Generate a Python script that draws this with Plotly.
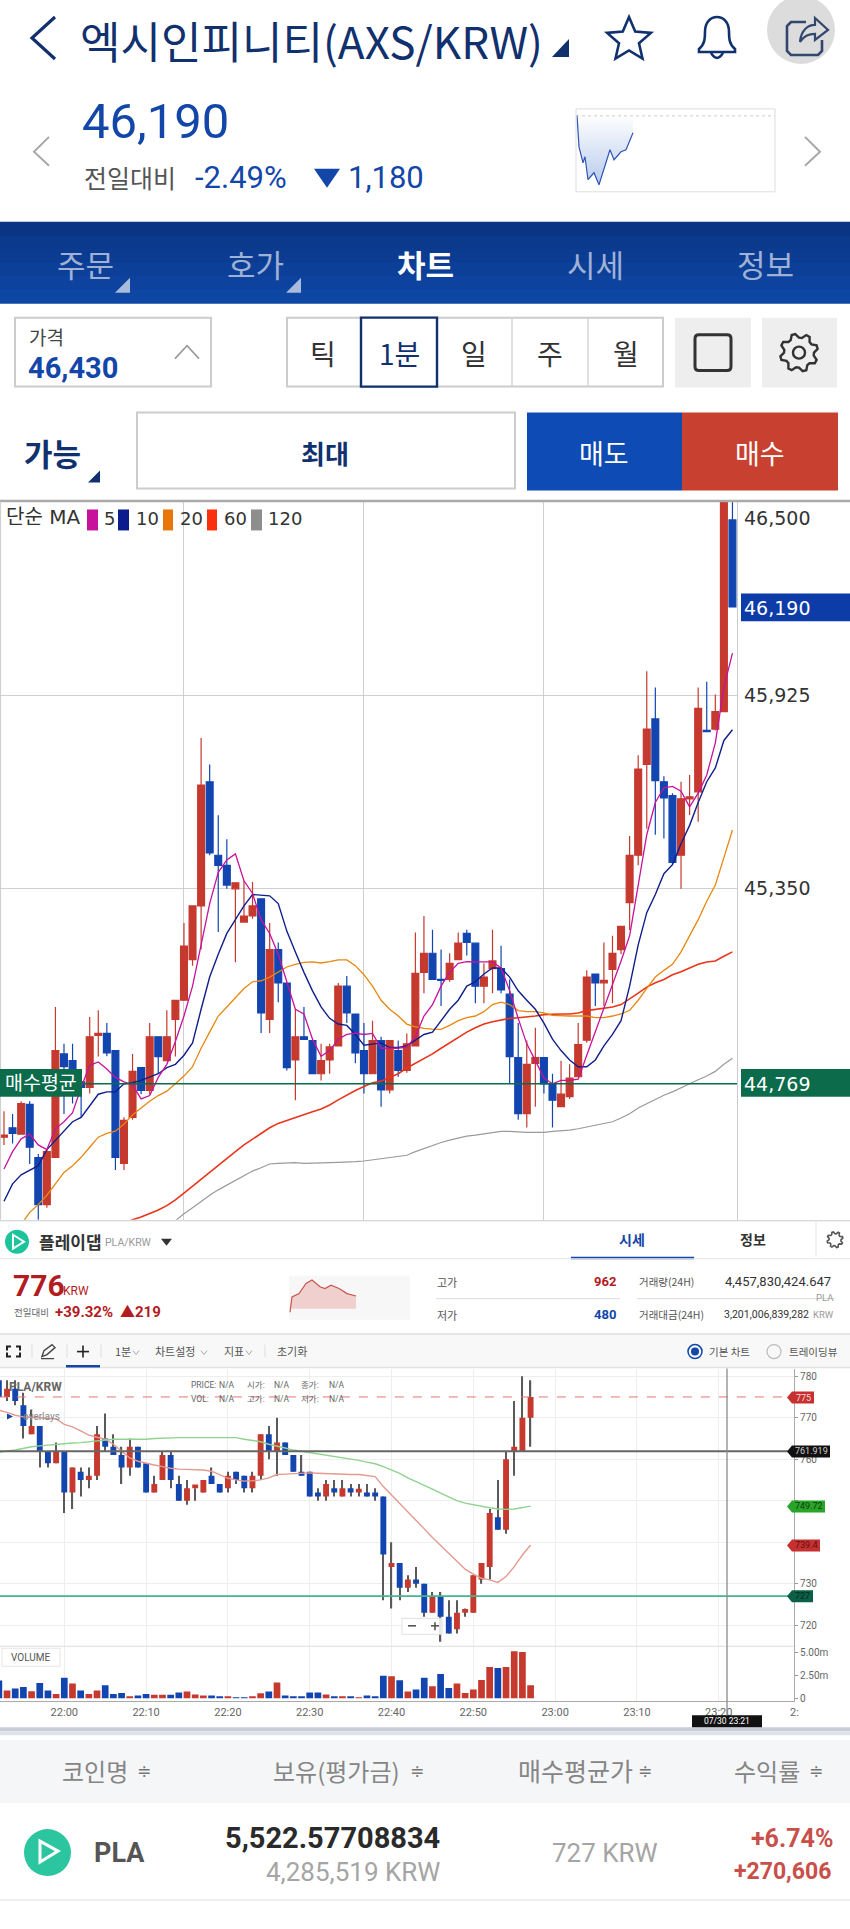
import re, math
import plotly.graph_objects as go

W, H = 850, 1929

# ---------- upper chart data (AXS/KRW, 1 minute) ----------
ax_open = [44610,44638,44619,44708,44549,44409,44550,44858,44838,44775,44758,44913,44919,44868,44532,44669,44817,44749,44909,44838,44961,45018,45139,45299,45669,45450,45420,45350,45251,45269,45320,44961,45169,45069,44840,44909,44898,44799,44840,44882,45060,44977,44868,44799,44898,44751,44868,44809,44882,45101,45158,45080,45080,45139,45217,45188,45060,45112,45112,45036,44847,44680,44830,44847,44769,44701,44731,44790,44899,45096,45070,45110,45169,45309,45450,45721,45856,45669,45628,45450,45618,45639,45822,45826,45878,46449]
ax_high = [44687,44679,44717,44717,44560,44573,44998,44888,44888,44813,44968,44988,44950,44868,44669,44858,44817,44950,44909,44988,45018,45248,45299,45799,45720,45569,45498,45368,45374,45370,45320,45248,45190,45069,44991,44998,44898,44888,44888,45069,45090,44977,44950,44957,44909,44898,44898,44919,45220,45269,45228,45169,45158,45220,45228,45188,45128,45228,45180,45080,44950,44898,44936,44847,44799,44838,44827,44950,45107,45096,45190,45210,45238,45507,45748,45998,45950,45685,45635,45669,45689,45950,45967,45929,46560,46560]
ax_low = [44587,44591,44619,44530,44364,44400,44550,44679,44710,44669,44740,44850,44851,44512,44512,44662,44738,44738,44799,44838,44850,45018,45121,45169,45450,45221,45350,45131,45251,45261,44920,44920,45012,44809,44720,44901,44799,44779,44799,44882,44950,44830,44740,44799,44701,44740,44790,44802,44882,45039,45080,45001,45073,45139,45151,45009,45009,45039,45039,44769,44662,44639,44701,44740,44639,44701,44724,44790,44891,45001,45001,45009,45155,45227,45420,45529,45511,45500,45422,45350,45570,45550,45818,45822,45878,46190]
ax_close = [44616,44621,44710,44580,44409,44567,44868,44820,44799,44758,44909,44919,44861,44550,44660,44806,44749,44909,44850,44909,45018,45179,45299,45659,45457,45420,45361,45368,45269,45299,44980,45169,45070,44817,44909,44901,44799,44838,44879,45060,44980,44861,44799,44898,44751,44898,44809,44888,45098,45158,45080,45077,45128,45188,45190,45060,45087,45135,45049,44850,44680,44827,44847,44769,44720,44738,44786,44886,45087,45070,45077,45158,45238,45450,45707,45826,45672,45621,45429,45618,45624,45888,45818,45878,46540,46190]
ma5 = [44515,44567,44605,44619,44587,44573,44635,44656,44683,44758,44824,44834,44813,44788,44775,44765,44724,44734,44788,44827,44895,44971,45060,45183,45306,45399,45436,45454,45374,45336,45258,45217,45155,45073,44991,44977,44902,44851,44868,44902,44916,44920,44916,44919,44875,44875,44875,44879,44909,44971,45005,45060,45101,45128,45133,45132,45132,45132,45114,45046,44964,44888,44838,44786,44769,44779,44779,44783,44854,44923,44991,45060,45135,45210,45361,45511,45607,45651,45655,45641,45594,45635,45689,45785,45950,46052]
ma10 = [44419,44471,44498,44512,44525,44573,44601,44628,44656,44669,44704,44738,44745,44745,44769,44772,44779,44788,44799,44817,44827,44854,44891,44991,45087,45155,45217,45258,45299,45333,45331,45329,45306,45224,45162,45101,45046,44998,44964,44947,44943,44916,44884,44888,44891,44877,44877,44882,44898,44916,44923,44957,44991,45018,45060,45073,45096,45114,45114,45087,45046,45018,44991,44950,44902,44868,44840,44820,44820,44840,44882,44916,44957,45060,45183,45279,45333,45395,45422,45484,45539,45607,45669,45710,45792,45824]
ma20 = [None,None,44350,44386,44409,44437,44471,44505,44525,44550,44580,44610,44621,44628,44649,44676,44697,44717,44734,44747,44769,44792,44820,44875,44923,44971,44998,45025,45053,45073,45076,45087,45101,45117,45125,45131,45132,45129,45133,45138,45138,45121,45094,45060,45018,44991,44971,44947,44939,44934,44932,44931,44943,44957,44966,44971,44984,45005,45012,45005,44987,44984,44984,44980,44973,44971,44971,44971,44971,44966,44966,44971,44977,44988,45018,45053,45087,45107,45125,45162,45210,45258,45313,45361,45443,45525]
ma60 = [None,None,None,None,None,None,None,None,None,None,None,None,None,None,44352,44364,44372,44382,44393,44406,44423,44443,44464,44484,44505,44525,44546,44567,44587,44605,44621,44638,44651,44660,44669,44679,44686,44694,44706,44721,44736,44749,44761,44772,44777,44788,44799,44816,44830,44843,44858,44875,44891,44906,44923,44936,44947,44954,44960,44964,44966,44968,44971,44975,44977,44977,44977,44980,44987,44991,44995,44998,45005,45021,45039,45057,45070,45080,45094,45103,45114,45125,45132,45135,45149,45162]
ma120 = [None,None,None,None,None,None,None,None,None,None,None,None,None,None,None,None,None,None,None,None,44361,44382,44400,44419,44437,44453,44467,44482,44495,44509,44519,44530,44532,44534,44534,44532,44532,44532,44534,44535,44535,44537,44539,44542,44545,44549,44552,44556,44567,44576,44587,44594,44601,44608,44613,44616,44619,44623,44627,44627,44625,44624,44624,44624,44627,44628,44631,44635,44640,44645,44649,44656,44667,44680,44697,44710,44724,44735,44745,44756,44769,44781,44792,44806,44827,44845]
ax_y_ticks = [45925, 45350]
ax_y_labels = ["45,925", "45,350"]
ax_vgrid = [21, 42, 63]
avg_buy_price = 44769

# ---------- lower chart data (PLA/KRW, minutes from 22:00) ----------
pl_min = list(range(-8, 58))
pl_open = [779,775,777,773,766,768,762,759,762,752,757,755,756,765,763,761,758,763,759,752,755,761,754,750,753,752,756,754,753,757,756,753,756,766,762,764,761,757,757,752,751,753,751,753,752,752,752,751,734,735,729,731,730,723,727,722,719,723,723,731,734,746,743,762,762,770]
pl_high = [781,779,779,776,772,768,762,764,762,758,758,758,768,771,766,763,765,763,759,756,762,762,756,755,753,755,758,754,757,757,756,757,766,768,770,764,761,761,757,753,755,755,755,754,754,754,753,751,740,735,732,734,730,728,728,726,726,724,732,735,748,755,762,774,780,779]
pl_low = [775,774,773,765,766,758,758,759,747,748,751,753,755,762,761,754,756,758,752,752,755,753,750,749,750,752,754,752,752,754,752,752,755,760,756,761,757,756,751,750,750,751,751,751,751,751,750,726,724,726,728,729,722,723,716,718,718,722,723,730,731,743,742,756,762,763]
pl_close = [775,777,774,768,768,762,759,762,752,758,755,756,766,763,761,758,763,758,752,754,761,755,750,753,753,755,754,752,756,755,753,756,766,762,764,761,757,756,751,751,754,752,753,752,752,751,751,737,735,729,731,730,723,727,722,718,723,723,732,735,747,743,760,763,770,775]
pl_volume = [1.93,0.84,1.06,1.24,0.77,1.68,0.84,0.47,2.23,1.61,0.84,0.47,0.84,1.42,0.47,0.58,0.22,0.29,0.47,0.37,0.37,0.37,0.62,0.73,0.40,0.29,0.29,0.22,0.22,0.07,0.07,0.22,0.55,0.73,1.72,0.29,0.22,0.22,0.62,0.62,0.40,0.22,0.22,0.22,0.07,0.29,0.22,2.45,2.41,1.97,0.73,0.95,2.23,1.31,2.66,1.13,1.61,0.58,0.95,2.01,3.43,3.32,3.43,5.15,5.07,1.42]
pl_ma_red = [771.8,771.3,770.6,770.2,770.1,770.0,769.8,769.7,768.4,767.8,766.8,765.8,765.3,764.8,763.6,762.0,760.3,759.5,759.0,758.6,758.2,757.8,757.6,757.5,757.4,757.4,757.1,756.3,755.4,755.0,754.7,754.8,755.0,755.5,756.3,756.4,756.5,756.7,756.7,756.6,756.5,756.4,756.4,756.3,756.3,756.1,755.8,753.4,751.4,749.4,747.4,745.2,743.2,741.1,739.2,737.1,735.2,733.5,732.3,731.3,730.9,730.3,731.7,734.1,736.9,739.3]
pl_ma_green = [761.6,762.0,762.2,762.6,763.0,763.2,763.4,763.6,763.7,763.9,764.0,764.2,764.4,764.7,764.8,764.8,764.8,764.8,764.8,765.0,765.1,765.2,765.2,765.2,765.2,765.2,765.2,765.2,765.2,765.2,764.8,764.5,764.2,763.6,763.2,762.7,762.2,761.9,761.6,761.3,761.0,760.7,760.3,760.0,759.7,759.3,758.9,758.2,757.4,756.6,755.5,754.6,753.8,752.8,751.8,750.9,750.0,749.4,749.0,748.6,748.3,748.0,747.9,748.0,748.3,748.7]
pl_price_ticks = [720,730,740,750,760,770,780]
pl_price_labels = ["720","730","","","760","770","780"]
pl_vol_ticks = [0,2.5,5]
pl_vol_labels = ["0","2.50m","5.00m"]
pl_time_ticks = [0,10,20,30,40,50,60,70,80]
pl_time_labels = ["22:00","22:10","22:20","22:30","22:40","22:50","23:00","23:10","23:20"]
pl_last = 775
pl_ref_black = 761.919
pl_avg_buy = 727
pl_cross = 81

# ---------- sparklines ----------
spark1_x = [1,3,7,9,12,18,23,28,34,38,45,50,57]
spark1_y = [47439,45231,44127,44541,42954,43437,42609,43644,45024,44334,44886,45024,46197]
spark1_prev = 47370
spark2_x = [1,3,10,17,23,31,36,42,50,58,67]
spark2_y = [480,708,759,911,962,861,835,886,835,759,724]
spark2_base = 531

RED, BLUE = "#c5392e", "#1245b0"
NAVY = "#10306e"
KR = "Noto Sans CJK KR"
NUM = "Roboto, Noto Sans CJK KR"
DJ = "DejaVu Sans, Noto Sans CJK KR"

sx = lambda x: x / W
sy = lambda y: 1 - y / H
shapes, notes = [], []

def rect(x0, y0, x1, y1, fill=None, line=None, lw=1, layer="above"):
    shapes.append(dict(type="rect", xref="paper", yref="paper", x0=sx(x0), x1=sx(x1), y0=sy(y0), y1=sy(y1),
                       fillcolor=fill or "rgba(0,0,0,0)", line=dict(color=line or "rgba(0,0,0,0)", width=lw if line else 0), layer=layer))

def circle(x0, y0, x1, y1, fill=None, line=None, lw=1):
    shapes.append(dict(type="circle", xref="paper", yref="paper", x0=sx(x0), x1=sx(x1), y0=sy(y0), y1=sy(y1),
                       fillcolor=fill or "rgba(0,0,0,0)", line=dict(color=line or "rgba(0,0,0,0)", width=lw if line else 0), layer="above"))

def hline(x0, y, x1, color, lw=1):
    shapes.append(dict(type="line", xref="paper", yref="paper", x0=sx(x0), x1=sx(x1), y0=sy(y), y1=sy(y),
                       line=dict(color=color, width=lw), layer="above"))

def vline(x, y0, y1, color, lw=1):
    shapes.append(dict(type="line", xref="paper", yref="paper", x0=sx(x), x1=sx(x), y0=sy(y0), y1=sy(y1),
                       line=dict(color=color, width=lw), layer="above"))

def path(d, fill=None, line=None, lw=1):
    toks = re.findall(r"[MLCQZ]|-?\d+\.?\d*", d)
    out, isx = [], True
    for t in toks:
        if t in "MLCQZ":
            out.append(t); isx = True
        else:
            v = float(t)
            out.append(f"{sx(v):.5f}" if isx else f"{sy(v):.5f}")
            isx = not isx
    s = ""
    for t in out:
        s += (t if t in "MLCQZ" else " " + t)
    shapes.append(dict(type="path", xref="paper", yref="paper", path=s,
                       fillcolor=fill or "rgba(0,0,0,0)", line=dict(color=line or "rgba(0,0,0,0)", width=lw if line else 0), layer="above"))

def text(x, y, s, size, color="#333", anchor="center", font=KR, bold=False):
    notes.append(dict(xref="paper", yref="paper", x=sx(x), y=sy(y), text=f"<b>{s}</b>" if bold else s, showarrow=False,
                      xanchor=anchor, yanchor="middle", font=dict(size=size, color=color, family=font)))

def gear(cx, cy, R, r, lw, col):
    pts = []
    for k in range(32):
        a = k * 2 * math.pi / 32 + math.pi / 8
        rr = R if k % 4 in (0, 1) else r
        pts.append(f"{'M' if k == 0 else 'L'} {cx + rr * math.cos(a):.1f} {cy + rr * math.sin(a):.1f}")
    path(" ".join(pts) + " Z", line=col, lw=lw)

# ---------- header ----------
path("M 55 17 L 32 38 L 55 59", line=NAVY, lw=3.2)
text(78, 40, "엑시인피니티(AXS/KRW)", 44, NAVY, "left")
path("M 569 39 L 569 57 L 552 57 Z", fill=NAVY)
star = []
for k in range(10):
    r = 23 if k % 2 == 0 else 10.5
    a = -math.pi / 2 + k * math.pi / 5
    star.append(f"{'M' if k == 0 else 'L'} {629 + r * math.cos(a):.1f} {40 + r * math.sin(a):.1f}")
path(" ".join(star) + " Z", line=NAVY, lw=2.6)
path("M 699 49 C 705 44 705 38 705 32 C 705 22 711 17 717 17 C 723 17 729 22 729 32 C 729 38 729 44 735 49 L 735 52 L 699 52 Z", line=NAVY, lw=2.6)
path("M 711 53 Q 717 63 723 53", line=NAVY, lw=2.6)
circle(767, -4, 835, 64, fill="#dcdcdc")
path("M 806 22 L 791 22 L 787 26 L 787 51 L 791 55 L 818 55 L 822 51 L 822 40", line="#33476e", lw=2.6)
path("M 800 42 C 801 30 808 25 815 25 L 815 18 L 828 30 L 815 40 L 815 34 C 808 34 804 36 800 42 Z", line="#33476e", lw=2.2)
text(80, 122, "46,190", 49, "#1246a8", "left", NUM)
text(82, 177, "전일대비", 25, "#555", "left")
text(193, 178, "-2.49%", 31, "#1246a8", "left", NUM)
path("M 314 169 L 340 169 L 327 188 Z", fill="#1246a8")
text(346, 178, "1,180", 31, "#1246a8", "left", NUM)
path("M 49 137 L 34 152 L 49 166", line="#a8a8a8", lw=2)
path("M 805 137 L 820 152 L 805 166", line="#a8a8a8", lw=2)
rect(576, 109, 775, 192, line="#dddddd", lw=1)

# ---------- nav bar ----------
band_cols = ["#0a3585", "#0b398c", "#0b3c92", "#0c3f98", "#0d439e", "#0d46a3"]
for k, c in enumerate(band_cols):
    rect(0, 222 + k * 13.5, W, 222 + (k + 1) * 13.5 + 1, fill=c)
for x, s in zip([85, 255, 595, 765], ["주문", "호가", "시세", "정보"]):
    text(x, 264, s, 31, "#9fb2d6")
text(425, 264, "차트", 31, "#ffffff", bold=True)
path("M 130 278 L 130 293 L 115 293 Z", fill="#a9bbdc")
path("M 301 278 L 301 293 L 286 293 Z", fill="#a9bbdc")

# ---------- controls ----------
rect(15, 318, 211, 387, fill="#fff", line="#cccccc", lw=2)
text(27, 337, "가격", 19, "#444", "left")
text(26, 368, "46,430", 29, "#1246a8", "left", NUM, True)
path("M 175 359 L 187 346 L 199 359", line="#999", lw=1.6)
rect(287, 318, 663, 387, fill="#fff", line="#cccccc", lw=2)
for x in [512, 588]:
    vline(x, 318, 387, "#d5d5d5", 1.5)
rect(361, 318, 437, 387, fill="#fff", line=NAVY, lw=2.4)
for x, s, c in zip([323, 399, 474, 550, 626], ["틱", "1분", "일", "주", "월"], ["#333", NAVY, "#333", "#333", "#333"]):
    text(x, 353, s, 28, c)
rect(675, 318, 751, 388, fill="#eeeeee")
rect(762, 318, 837, 388, fill="#eeeeee")
path("M 699 335 L 727 335 Q 731 335 731 339 L 731 367 Q 731 371 727 371 L 699 371 Q 695 371 695 367 L 695 339 Q 695 335 699 335 Z", line="#333", lw=3)
gear(799, 353, 19, 15, 2.4, "#333")
circle(793, 347, 805, 359, line="#333", lw=2.4)

text(22, 453, "가능", 31, NAVY, "left", bold=True)
path("M 100 471 L 100 483 L 88 483 Z", fill=NAVY)
rect(137, 413, 515, 489, fill="#fff", line="#cccccc", lw=2)
text(325, 453, "최대", 26, NAVY, bold=True)
rect(527, 413, 682, 491, fill="#0f4bb4")
rect(682, 413, 838, 491, fill="#c8402f")
text(604, 453, "매도", 27, "#ffffff")
text(760, 453, "매수", 27, "#ffffff")

# ---------- upper chart chrome ----------
hline(0, 501.5, W, "#aaaaaa", 2.5)
vline(0.6, 502, 1221, "#cccccc", 1)
hline(0, 1222, W, "#cccccc", 1)
text(4, 518, "단순 MA", 20, "#333", "left", DJ)
for x0, x1, lab, lx, col in [(87, 98, "5", 102, "#c7139b"), (118, 129, "10", 134, "#0c1c8c"), (163, 173, "20", 178, "#e8760a"),
                             (207, 217, "60", 222, "#fa2f0e"), (251, 262, "120", 266, "#8e8e8e")]:
    rect(x0, 510, x1, 531, fill=col)
    text(lx, 519, lab, 18, "#333", "left", DJ)
text(742, 519, "46,500", 19, "#333", "left", DJ)
rect(741, 594, W, 622, fill="#0d3ba8")
text(742, 609, "46,190", 19, "#ffffff", "left", DJ)
rect(0, 1070, 82, 1098, fill="#0b6b4a")
text(3, 1085, "매수평균", 19.5, "#ffffff", "left", DJ)
rect(741, 1070, W, 1098, fill="#0b6b4a")
text(742, 1085, "44,769", 19, "#ffffff", "left", DJ)

# ---------- lower panel head ----------
circle(5, 1231, 29, 1255, fill="#1dc39a")
path("M 13 1236 L 24 1243 L 13 1250 Z", line="#fff", lw=2)
text(37, 1243, "플레이댑", 17, "#333", "left", bold=True)
text(103, 1244, "PLA/KRW", 10.5, "#999", "left", NUM)
path("M 161 1240 L 172 1240 L 166.5 1247 Z", fill="#333")
text(632, 1240, "시세", 14, "#1246a8", bold=True)
text(753, 1240, "정보", 14, "#333", bold=True)
rect(571, 1258, 694, 1260.5, fill="#1246a8")
vline(816, 1222, 1258, "#e5e5e5")
hline(0, 1260, W, "#e5e5e5")
gear(835, 1241, 8, 6, 1.6, "#555")
text(11, 1287, "776", 30, "#b31b22", "left", NUM, True)
text(61, 1292, "KRW", 12, "#b31b22", "left", NUM)
text(12, 1313, "전일대비", 9.5, "#666", "left")
text(53, 1313, "+39.32%", 15, "#b31b22", "left", NUM, True)
text(118, 1313, "▲219", 15, "#b31b22", "left", NUM, True)
rect(289, 1277, 410, 1321, fill="#f7f7f7", layer="below")
text(447, 1283, "고가", 11, "#555")
text(618, 1283, "962", 13, "#b31b22", "right", NUM, True)
text(447, 1316, "저가", 11, "#555")
text(618, 1316, "480", 13, "#1246a8", "right", NUM, True)
hline(436, 1300, 620, "#dddddd")
hline(637, 1300, 835, "#dddddd")
text(637, 1283, "거래량(24H)", 10.5, "#555", "left")
text(833, 1283, "4,457,830,424.647", 13, "#333", "right", NUM)
text(836, 1299, "PLA", 9.5, "#999", "right", NUM)
text(637, 1316, "거래대금(24H)", 10.5, "#555", "left")
text(811, 1316, "3,201,006,839,282", 10.5, "#333", "right", NUM)
text(836, 1316, "KRW", 9.5, "#999", "right", NUM)

# ---------- lower toolbar ----------
rect(0, 1335, W, 1369, fill="#f8f8f8")
hline(0, 1335.5, W, "#e5e5e5", 2)
hline(0, 1369, W, "#e3e3e3", 1.5)
path("M 7 1352 L 7 1348 L 11 1348 M 16 1348 L 20 1348 L 20 1352 M 20 1354 L 20 1358 L 16 1358 M 11 1358 L 7 1358 L 7 1354", line="#222", lw=2)
path("M 42 1358 L 44 1352 L 52 1346 L 55 1349 L 47 1356 Z M 41 1360 L 54 1360", line="#444", lw=1.4)
hline(77, 1353, 89, "#222", 1.6)
vline(83, 1347, 1359, "#222", 1.6)
rect(66, 1366.5, 100, 1369, fill="#1246a8")
for x in [32, 67, 101, 265]:
    vline(x, 1346, 1359, "#dddddd")
text(113, 1352, "1분", 11, "#555", "left")
text(153, 1352, "차트설정", 11, "#555", "left")
text(222, 1352, "지표", 11, "#555", "left")
text(275, 1352, "초기화", 11, "#555", "left")
for x in [133, 201, 246]:
    path(f"M {x} 1352 L {x+3} 1356 L {x+6} 1352", line="#aaa", lw=1)
circle(688, 1346, 702, 1360, line="#1246a8", lw=1.5)
circle(691, 1349, 699, 1357, fill="#1246a8")
text(707, 1353, "기본 차트", 10.5, "#555", "left")
circle(767, 1346, 781, 1360, line="#bbbbbb", lw=1.2)
text(787, 1353, "트레이딩뷰", 10.5, "#555", "left")

# ---------- lower chart chrome ----------
text(7, 1388, "PLA/KRW", 12, "#666", "left", NUM, True)
for x, y, s in [(189, 1386, "PRICE:"), (217, 1386, "N/A"), (245, 1386, "시가:"), (272, 1386, "N/A"), (299, 1386, "종가:"), (327, 1386, "N/A"),
                (189, 1400, "VOL:"), (217, 1400, "N/A"), (245, 1400, "고가:"), (272, 1400, "N/A"), (299, 1400, "저가:"), (327, 1400, "N/A")]:
    text(x, y, s, 8.5, "#666", "left", NUM)
path("M 7 1415 L 13 1418 L 7 1421 Z", fill="#1246a8")
text(21, 1418, "overlays", 10, "#888", "left", NUM)
rect(402, 1620, 442, 1636, fill="rgba(255,255,255,0.85)", line="#e0e0e0")
hline(408, 1627.5, 416, "#555", 1.6)
hline(431, 1627.5, 439, "#555", 1.6)
vline(435, 1624, 1632, "#555", 1.6)
rect(2, 1650, 60, 1668, fill="#ffffff", line="#e6e6e6")
text(31, 1659, "VOLUME", 10, "#555", "center", NUM)
hline(0, 1648, 794, "#dddddd", 1)
vline(727, 1370, 1717, "#8a8a8a", 1.3)
rect(692, 1717, 762, 1729.5, fill="#111111")
text(727, 1723, "07/30 23:21", 8.5, "#ffffff", "center", NUM)
text(788, 1714, "2:", 11, "#666", "left", NUM)

def badge(x1, yc, fill, label, col):
    path(f"M 787 {yc} L 792 {yc-6} L {x1} {yc-6} L {x1} {yc+6} L 792 {yc+6} Z", fill=fill)
    text((792 + x1) / 2, yc, label, 9, col, "center", NUM)
badge(814, 1399, "#c63030", "775", "#ffd9d9")
badge(830, 1453, "#111111", "761.919", "#cccccc")
badge(825, 1508, "#28a428", "749.72", "#0e3e0e")
badge(820, 1547, "#c63030", "739.4", "#5a1010")
badge(813, 1598, "#0c5f47", "727", "#052a20")

# ---------- bottom table ----------
rect(0, 1729, W, 1733, fill="#c9ced6")
rect(0, 1733, W, 1737, fill="#dfe3ea")
rect(0, 1742, W, 1805, fill="#f5f6f8")
for x, s, sz in [(95, "코인명", 24), (336, "보유(평가금)", 24), (575, "매수평균가", 25), (767, "수익률", 24)]:
    text(x, 1772, s, sz, "#858585")
for x in [144, 417, 645, 816]:
    text(x, 1773, "≑", 17, "#777", "center", DJ)
circle(24, 1831, 71, 1878, fill="#2bc5a0")
path("M 40 1843 L 58 1853 L 40 1864 Z", line="#fff", lw=3)
text(92, 1855, "PLA", 27, "#555", "left", NUM, True)
text(442, 1840, "5,522.57708834", 29, "#2a2a2a", "right", NUM, True)
text(442, 1874, "4,285,519 KRW", 26, "#a5a5a5", "right", NUM)
text(660, 1855, "727 KRW", 26, "#a5a5a5", "right", NUM)
text(835, 1840, "+6.74%", 25, "#c9504a", "right", NUM, True)
text(833, 1873, "+270,606", 23, "#c9504a", "right", NUM, True)
hline(0, 1902, W, "#eeeeee", 2)

# ---------- traces ----------
fig = go.Figure()
idx = list(range(len(ax_open)))
fig.add_trace(go.Candlestick(x=idx, open=ax_open, high=ax_high, low=ax_low, close=ax_close, xaxis="x", yaxis="y",
                             whiskerwidth=0,
                             increasing=dict(line=dict(color=RED, width=1.2), fillcolor=RED),
                             decreasing=dict(line=dict(color=BLUE, width=1.2), fillcolor=BLUE)))
for vals, col, lw in [(ma120, "#9a9a9a", 1.2), (ma60, "#e8351c", 1.6), (ma20, "#e8870f", 1.3), (ma10, "#101f8a", 1.4), (ma5, "#c7139b", 1.3)]:
    fig.add_trace(go.Scatter(x=idx, y=vals, mode="lines", line=dict(color=col, width=lw), xaxis="x", yaxis="y"))
fig.add_trace(go.Scatter(x=[idx[0] - 1, idx[-1] + 1], y=[avg_buy_price, avg_buy_price], mode="lines",
                         line=dict(color="#0b6b4a", width=1.4), xaxis="x", yaxis="y"))

candle_col = [RED if c >= o else BLUE for o, c in zip(pl_open, pl_close)]
fig.add_trace(go.Bar(x=pl_min, base=pl_low, y=[h - l for h, l in zip(pl_high, pl_low)], width=0.15,
                     marker=dict(color="#5a5a5a", line=dict(width=0)), xaxis="x2", yaxis="y2"))
fig.add_trace(go.Bar(x=pl_min, base=[min(o, c) for o, c in zip(pl_open, pl_close)],
                     y=[max(abs(c - o), 0.9) for o, c in zip(pl_open, pl_close)], width=0.72,
                     marker=dict(color=candle_col, line=dict(width=0)), xaxis="x2", yaxis="y2"))
fig.add_trace(go.Scatter(x=pl_min, y=pl_ma_red, mode="lines", line=dict(color="#e39a90", width=1.4), xaxis="x2", yaxis="y2"))
fig.add_trace(go.Scatter(x=pl_min, y=pl_ma_green, mode="lines", line=dict(color="#8fd38f", width=1.4), xaxis="x2", yaxis="y2"))
xr = [-8, 89.2]
fig.add_trace(go.Scatter(x=xr, y=[pl_last, pl_last], mode="lines", line=dict(color="#e57373", width=1, dash="dash"), xaxis="x2", yaxis="y2"))
fig.add_trace(go.Scatter(x=xr, y=[pl_ref_black, pl_ref_black], mode="lines", line=dict(color="#666666", width=1.8), xaxis="x2", yaxis="y2"))
fig.add_trace(go.Scatter(x=xr, y=[pl_avg_buy, pl_avg_buy], mode="lines", line=dict(color="#44b58f", width=1.8), xaxis="x2", yaxis="y2"))
fig.add_trace(go.Bar(x=pl_min, y=pl_volume, width=0.82, marker=dict(color=candle_col, line=dict(width=0)), xaxis="x2", yaxis="y3"))

# sparkline 1
fig.add_trace(go.Scatter(x=spark1_x, y=[spark1_prev] * len(spark1_x), mode="lines", line=dict(width=0, color="#fff"), xaxis="x3", yaxis="y4"))
fig.add_trace(go.Scatter(x=spark1_x, y=spark1_y, mode="lines", line=dict(color="#2f55b5", width=1.2), fill="tonexty",
                         fillgradient=dict(type="vertical", colorscale=[[0, "#b7cbec"], [1, "#ffffff"]]), xaxis="x3", yaxis="y4"))
fig.add_trace(go.Scatter(x=[0, 199], y=[spark1_prev, spark1_prev], mode="lines", line=dict(color="#cccccc", width=1, dash="dot"), xaxis="x3", yaxis="y4"))
# sparkline 2
fig.add_trace(go.Scatter(x=spark2_x, y=[spark2_base] * len(spark2_x), mode="lines", line=dict(width=0, color="#fff"), xaxis="x4", yaxis="y5"))
fig.add_trace(go.Scatter(x=spark2_x, y=spark2_y, mode="lines", line=dict(color="#c8554f", width=1.2), fill="tonexty",
                         fillcolor="rgba(230,150,145,0.4)", xaxis="x4", yaxis="y5"))

def off():
    return dict(visible=False, fixedrange=True)

fig.update_layout(
    width=W, height=H, margin=dict(l=0, r=0, t=0, b=0), autosize=False,
    paper_bgcolor="#ffffff", plot_bgcolor="rgba(0,0,0,0)", showlegend=False, hovermode=False,
    barmode="overlay", boxgap=0.2, boxgroupgap=0, shapes=shapes, annotations=notes,
    font=dict(family=KR),
    xaxis=dict(domain=[0, 737 / W], range=[-0.467, 85.53], anchor="y", tickvals=ax_vgrid, showticklabels=False, ticks="",
               showgrid=True, gridcolor="#cfcfcf", gridwidth=1.4, zeroline=False, rangeslider=dict(visible=False), showline=False),
    yaxis=dict(domain=[sy(1221), sy(502)], range=[44364, 46504], anchor="x", side="right", tickvals=ax_y_ticks, ticktext=ax_y_labels,
               tickfont=dict(family=DJ, size=19, color="#333"), ticks="outside", ticklen=2, tickcolor="rgba(0,0,0,0)",
               showgrid=True, gridcolor="#cfcfcf", gridwidth=1, zeroline=False, showline=True, linecolor="#cccccc", linewidth=1.4),
    xaxis2=dict(domain=[0, 794 / W], range=[-7.86, 89.2], anchor="y3", tickvals=pl_time_ticks, ticktext=pl_time_labels,
                tickfont=dict(family=NUM, size=11, color="#666"), ticks="", showgrid=True, gridcolor="#eeeeee", gridwidth=1,
                zeroline=False, showline=True, linecolor="#aaaaaa", linewidth=1.2),
    yaxis2=dict(domain=[sy(1648), sy(1370)], range=[714.9, 781.84], anchor="x2", side="right", tickvals=pl_price_ticks, ticktext=pl_price_labels,
                tickfont=dict(family=NUM, size=10, color="#666"), ticks="outside", ticklen=3, tickcolor="#999",
                showgrid=True, gridcolor="#eeeeee", gridwidth=1, zeroline=False, showline=True, linecolor="#aaaaaa", linewidth=1.2),
    yaxis3=dict(domain=[sy(1703), sy(1648)], range=[-0.33, 5.69], anchor="x2", side="right", tickvals=pl_vol_ticks, ticktext=pl_vol_labels,
                tickfont=dict(family=NUM, size=10, color="#666"), ticks="outside", ticklen=3, tickcolor="#999",
                showgrid=False, zeroline=False, showline=True, linecolor="#aaaaaa", linewidth=1.2),
    xaxis3=dict(domain=[sx(576), sx(775)], range=[0, 199], anchor="y4", **off()),
    yaxis4=dict(domain=[sy(192), sy(109)], range=[42119, 47853], anchor="x3", **off()),
    xaxis4=dict(domain=[sx(289), sx(410)], range=[0, 121], anchor="y5", **off()),
    yaxis5=dict(domain=[sy(1321), sy(1277)], range=[369, 1028], anchor="x4", **off()),
)
fig.write_html("out.html", config=dict(displayModeBar=False), post_script="document.body.style.margin='0';")
